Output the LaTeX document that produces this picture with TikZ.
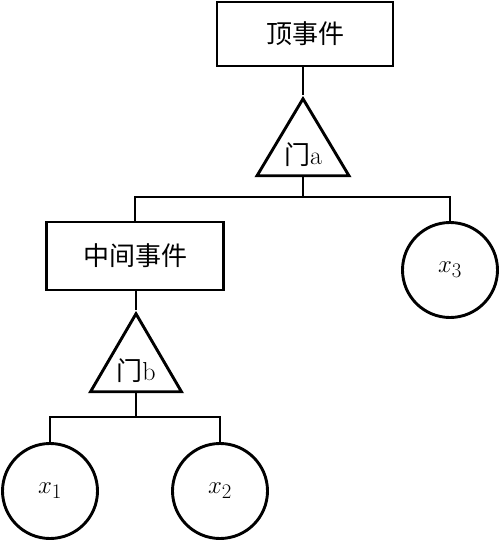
\documentclass[tikz,border=0pt]{standalone}
\usepackage{fontspec}
\newfontfamily\cjk{Noto Sans CJK SC}
\usetikzlibrary{shapes.geometric}
\begin{document}
\begin{tikzpicture}[x=1pt,y=-1pt,line width=2.9pt,
  event/.style={draw,rectangle,inner sep=0pt,font=\fontsize{26}{30}\selectfont\cjk},
  gate/.style={draw,isosceles triangle,shape border rotate=90,isosceles triangle stretches,
    inner sep=0pt,minimum width=92pt,minimum height=77pt,anchor=apex},
  gatetext/.style={inner sep=0pt,anchor=south,font=\fontsize{26}{30}\selectfont},
  basic/.style={draw,circle,minimum size=95pt,inner sep=0pt,font=\fontsize{28}{32}\selectfont}]
\useasboundingbox (0,0) rectangle (500,541);
% events
\node[event,minimum width=176pt,minimum height=64pt] (top) at (305,34) {顶事件};
\node[event,minimum width=177pt,minimum height=68pt] (mid) at (135,256) {中间事件};
% gates
\node[gate] (ga) at (303,95) {};
\node[gatetext] (ta) at ([yshift=9pt]ga.south) {{\cjk 门}a};
\node[gate,minimum width=91pt,minimum height=78pt] (gb) at (136,310) {};
\node[gatetext] (tb) at ([yshift=9pt]gb.south) {{\cjk 门}b};
% basic events
\node[basic] (x3) at (450,270) {$x_3$};
\node[basic] (x1) at (50,491) {$x_1$};
\node[basic] (x2) at (220,491) {$x_2$};
% junctions
\coordinate (ja) at (303,197);
\coordinate (jb) at (136,417);
\draw (top.south -| ga.apex) -- (ga.apex);
\draw (ga.south) -- (ja);
\draw (mid.north) |- (ja) -| (x3.north);
\draw (mid.south -| gb.apex) -- (gb.apex);
\draw (gb.south) -- (jb);
\draw (x1.north) |- (jb) -| (x2.north);
\end{tikzpicture}
\end{document}
